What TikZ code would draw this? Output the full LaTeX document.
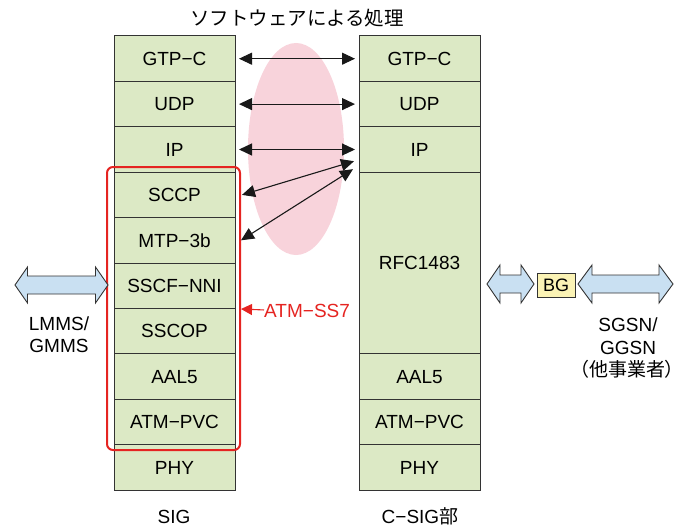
\documentclass[tikz,border=0pt]{standalone}
\usepackage{fontspec}
\setmainfont{Liberation Sans}
\newfontfamily\jp{Noto Sans CJK JP}
\newfontfamily\jpp[RawFeature=+palt]{Noto Sans CJK JP}
\usetikzlibrary{arrows.meta,calc}
\definecolor{layerfill}{HTML}{DCE9C5}
\definecolor{softpink}{HTML}{F8D3DB}
\definecolor{sigred}{HTML}{E52421}
\definecolor{pipeblue}{HTML}{C9E0F2}
\definecolor{bgyellow}{HTML}{FBF3B5}
\definecolor{edge}{HTML}{333333}

% double-headed block arrow: x1, x2, y, head length, head half-height, shaft half-height
\newcommand{\blockarrow}[6]{%
  \draw[blockstyle] (#1,#3) -- ({#1+#4},{#3-#5}) -- ({#1+#4},{#3-#6})
    -- ({#2-#4},{#3-#6}) -- ({#2-#4},{#3-#5}) -- (#2,#3)
    -- ({#2-#4},{#3+#5}) -- ({#2-#4},{#3+#6}) -- ({#1+#4},{#3+#6})
    -- ({#1+#4},{#3+#5}) -- cycle;}

\begin{document}
\begin{tikzpicture}[x=1pt,y=-1pt,
  font=\fontsize{19}{22}\selectfont,
  >={Triangle[length=13pt,width=12pt]},
  layer/.style={draw=edge, fill=layerfill, line width=1pt, minimum width=121pt,
    minimum height=45.4pt, inner sep=0pt, outer sep=0pt, anchor=north west,
    text height=13.6pt, text depth=0pt},
  blockstyle/.style={draw=edge, fill=pipeblue, line width=0.9pt, line join=miter},
  link/.style={draw=black!90, line width=1.1pt, <->},
  label/.style={anchor=base, inner sep=0pt}]
\useasboundingbox (0,0) rectangle (691,527);

% software processing region
\fill[softpink] (296,149) ellipse [x radius=48, y radius=106];

% SIG protocol stack
\node[layer] (lGTP)  at (114,36.0)  {GTP−C};
\node[layer] (lUDP)  at (114,81.4)  {UDP};
\node[layer] (lIP)   at (114,126.8) {IP};
\node[layer] (lSCCP) at (114,172.2) {SCCP};
\node[layer] (lMTP)  at (114,217.6) {MTP−3b};
\node[layer] (lSSCF) at (114,263.0) {SSCF−NNI};
\node[layer] (lSSCOP) at (114,308.4) {SSCOP};
\node[layer] (lAAL)  at (114,353.8) {AAL5};
\node[layer] (lATM)  at (114,399.2) {ATM−PVC};
\node[layer] (lPHY)  at (114,444.6) {PHY};

% C-SIG protocol stack
\node[layer] (rGTP)  at (359,36.0)  {GTP−C};
\node[layer] (rUDP)  at (359,81.4)  {UDP};
\node[layer] (rIP)   at (359,126.8) {IP};
\node[layer, minimum height=181.6pt] (rRFC) at (359,172.2) {RFC1483};
\node[layer] (rAAL)  at (359,353.8) {AAL5};
\node[layer] (rATM)  at (359,399.2) {ATM−PVC};
\node[layer] (rPHY)  at (359,444.6) {PHY};

% ATM-SS7 group
\draw[sigred, line width=2pt, rounded corners=6pt] (107,167) rectangle (240,450);

% peer links
\draw[link] ([xshift=4pt]lGTP.east) -- ([xshift=-4pt]rGTP.west);
\draw[link] ([xshift=4pt]lUDP.east) -- ([xshift=-4pt]rUDP.west);
\draw[link] ([xshift=4pt]lIP.east) -- ([xshift=-4pt]rIP.west);
\draw[link] ([xshift=7pt]lSCCP.east) -- ([xshift=-5pt,yshift=11pt]rIP.south west);
\draw[link] ([xshift=6pt]lMTP.east) -- ([xshift=-6pt,yshift=3pt]rIP.south west);

% ATM-SS7 label
\node[label, anchor=base west, text=sigred] (ss7) at (264,317) {ATM−SS7};
\draw[sigred, line width=1.1pt, -{Triangle[length=11pt,width=11pt]}] (ss7.west) ++(0,-0.5) coordinate (ss7tail) -- (241,309);

% external links
\blockarrow{15}{108}{285}{12.5}{18}{9}
\blockarrow{487}{534}{284}{13}{19}{9}
\node[draw=edge, fill=bgyellow, line width=0.9pt, minimum width=38pt, minimum height=24pt,
  inner sep=0pt, font=\fontsize{18}{20}\selectfont, text height=13pt, text depth=0pt] (bg) at (556,285) {BG};
\blockarrow{578}{673}{284}{14}{19}{9}

% labels
\node[label, font=\jp\fontsize{19.5}{22}\selectfont] (title) at (297,25.5) {ソフトウェアによる処理};
\node[label] (lmms) at (59,330) {LMMS/};
\node[label] (gmms) at (59,352.5) {GMMS};
\node[label] (sgsn) at (628,331) {SGSN/};
\node[label] (ggsn) at (628,354.5) {GGSN};
\node[label, font=\jpp\fontsize{19}{22}\selectfont] (other) at (627,376) {（他事業者）};
\node[label] (sig) at (174,523) {SIG};
\node[label] (csig) at (420,523) {C−SIG{\jp 部}};
\end{tikzpicture}
\end{document}
